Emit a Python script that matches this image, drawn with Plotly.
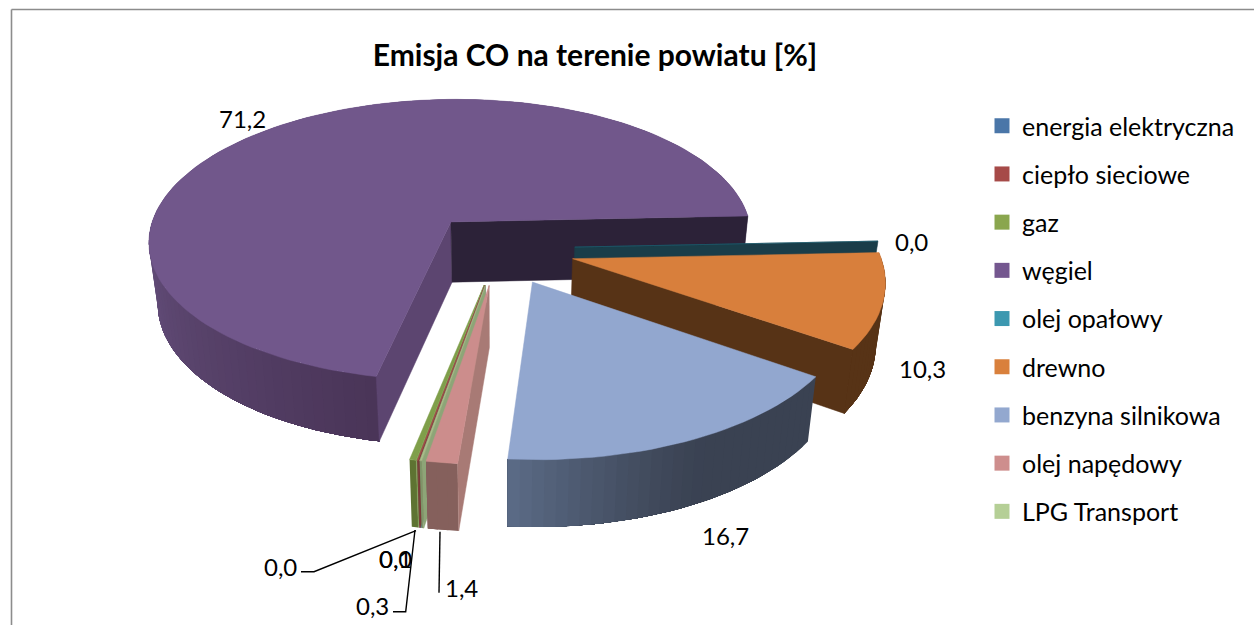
import numpy as np
import plotly.graph_objects as go

# ---- data ----
categories = ["energia elektryczna", "ciepło sieciowe", "gaz", "węgiel", "olej opałowy",
              "drewno", "benzyna silnikowa", "olej napędowy", "LPG Transport"]
values = [0.04, 0.04, 0.3, 71.2, 0.04, 10.3, 16.7, 1.4, 0.1]

# ---- styles ----
legend_colors = ["#4A76A8", "#A64A48", "#8AA64E", "#74578F", "#3C98B0", "#D9803C", "#93A8CF", "#CE8E8D", "#B5CF96"]
top_colors = ["#4A76A8", "#A64A48", "#7F9F4A", "#71578B", "#1F5F70", "#D87F3C", "#92A7CF", "#CC8D8C", "#A7BE8A"]
side_colors = ["#3E5F86", "#7A3A38", "#7A9650", "#5C4570", "#1A3D49", "#573316", "#3A4252", "#A87A75", "#8DA577"]
wall_start = ["#3E5F86", "#7A3A38", "#5E7332", "#4A3558", "#1A3D49", "#573316", "#3A4252", "#85605C", "#7D9468"]
wall_end = ["#3E5F86", "#7A3A38", "#5E7332", "#67517F", "#1A3D49", "#573316", "#5A6A85", "#85605C", "#7D9468"]
radial_end_colors = ["#3E5F86", "#7A3A38", "#5E7332", "#2C2238", "#1A3D49", "#573316", "#3A4252", "#A87A75", "#8DA577"]
paint_order = [3, 4, 5, 6, 2, 0, 1, 8, 7]

START_DEG = 190.1
EXPLODE = 0.248
XC, YC = 499.0, 248.6
RX, RY, K, DEPTH, BOTTOM_SCALE = 306.0, 145.0, 0.13, 61.0, 0.975


def project(X, Z):
    s = 1 / (1 - K * Z)
    return XC + RX * X * s, YC + RY * Z * s, s


def bottom(X, Z):
    x, y, s = project(X, Z)
    return XC + (x - XC) * BOTTOM_SCALE, YC + (y - YC) * BOTTOM_SCALE + DEPTH * s


def hex_rgb(h):
    return np.array([int(h[i:i + 2], 16) for i in (1, 3, 5)], float)


def mix(a, b, t):
    c = hex_rgb(a) * (1 - t) + hex_rgb(b) * t
    return "rgb(%d,%d,%d)" % tuple(c.round())


fig = go.Figure()


def poly(xs, ys, color, lw=0.5):
    fig.add_trace(go.Scatter(x=list(xs) + [xs[0]], y=list(ys) + [ys[0]], mode="lines", fill="toself",
                             fillcolor=color, line=dict(color=color, width=lw),
                             hoverinfo="skip", showlegend=False))


total = sum(values)
spans = np.array(values) / total * 360
starts = START_DEG + np.concatenate([[0], np.cumsum(spans)[:-1]])

for i in paint_order:
    a0, a1 = np.radians(starts[i]), np.radians(starts[i] + spans[i])
    mid = (a0 + a1) / 2
    ex, ez = EXPLODE * np.sin(mid), -EXPLODE * np.cos(mid)
    n = max(2, int(spans[i] / 2) + 2)
    th = np.linspace(a0, a1, n)
    X, Z = np.sin(th) + ex, -np.cos(th) + ez
    tx, ty, _ = project(X, Z)
    bx, by = bottom(X, Z)
    ax, ay, _ = project(np.array(ex), np.array(ez))
    abx, aby = bottom(np.array(ex), np.array(ez))

    # outer wall: each band reaches on to the end of the arc, so the next one overlaps it with no seam
    front = np.where(Z[:-1] + Z[1:] > -0.6)[0]
    if categories[i] == "węgiel":
        bands = front[::-1]
    else:
        bands = front
    for j in bands:
        if categories[i] == "węgiel":
            t = min(1.0, (np.degrees(th[j]) - starts[i]) / 80.0)
            k = np.arange(front[0], j + 2)
        elif categories[i] == "benzyna silnikowa":
            t = max(0.0, (j / (n - 2) - 0.45) / 0.55) ** 1.3
            k = np.arange(j, n)
        else:
            t = j / max(1, n - 2)
            k = np.arange(j, n)
        poly(list(tx[k]) + list(bx[k][::-1]), list(ty[k]) + list(by[k][::-1]),
             mix(wall_start[i], wall_end[i], t), lw=0)

    # radial walls: shown only if they face the viewer
    imx, imy, _ = project(np.array(np.sin(mid) + ex), np.array(-np.cos(mid) + ez))
    for idx, col in ((0, side_colors[i]), (-1, radial_end_colors[i])):
        dx, dy = tx[idx] - ax, ty[idx] - ay
        if (dx * DEPTH) * (dx * (imy - ay) - dy * (imx - ax)) < 0:
            poly([ax, tx[idx], bx[idx], abx], [ay, ty[idx], by[idx], aby], col)

    # top face
    poly([ax] + list(tx), [ay] + list(ty), top_colors[i])

# leader lines
leaders = [([301, 314, 416], [571.7, 571.7, 530.7]),
           ([393, 405.7, 415], [611.7, 611.7, 530]),
           ([439, 440], [592.7, 531.7])]
for lx, ly in leaders:
    fig.add_trace(go.Scatter(x=lx, y=ly, mode="lines", line=dict(color="#000000", width=1.4),
                             hoverinfo="skip", showlegend=False))

# legend entries
for name, col in zip(categories, legend_colors):
    fig.add_trace(go.Scatter(x=[None], y=[None], mode="markers", name=name, legendgroup=name,
                             marker=dict(symbol="square", size=15, color=col)))

# data labels
label_pos = {0: (280, 566), 1: (395, 558), 2: (372, 605), 3: (242, 118), 4: (911, 241),
             5: (922, 368), 6: (725, 535), 7: (461, 587), 8: (395, 558)}
ann = []
for i, v in enumerate(values):
    x, y = label_pos[i]
    ann.append(dict(x=x, y=y, xref="x", yref="y", text=f"{v:.1f}".replace(".", ","), showarrow=False,
                    font=dict(family="Lato", size=24, color="#000000")))

fig.update_layout(
    width=1254, height=625, margin=dict(l=0, r=0, t=0, b=0),
    paper_bgcolor="white", plot_bgcolor="white",
    xaxis=dict(range=[0, 1254], visible=False, fixedrange=True),
    yaxis=dict(range=[625, 0], visible=False, fixedrange=True),
    title=dict(text="<b>Emisja CO na terenie powiatu [%]</b>", x=595 / 1254, xanchor="center",
               y=1 - 55 / 625, yanchor="middle", font=dict(family="Lato", size=30, color="#000000")),
    legend=dict(x=982 / 1254, y=1 - 103 / 625, xanchor="left", yanchor="top", tracegroupgap=12.7,
                bgcolor="rgba(0,0,0,0)", font=dict(family="Lato", size=25, color="#000000")),
    shapes=[dict(type="line", xref="x", yref="y", x0=11.5, x1=11.5, y0=9.5, y1=625,
                 line=dict(color="#8C8C8C", width=1.6)),
            dict(type="line", xref="x", yref="y", x0=11.5, x1=1254, y0=9.5, y1=9.5,
                 line=dict(color="#8C8C8C", width=1.6))],
    annotations=ann,
)
fig.write_html("out.html", config={"displayModeBar": False},
               post_script="document.body.style.margin='0';")
